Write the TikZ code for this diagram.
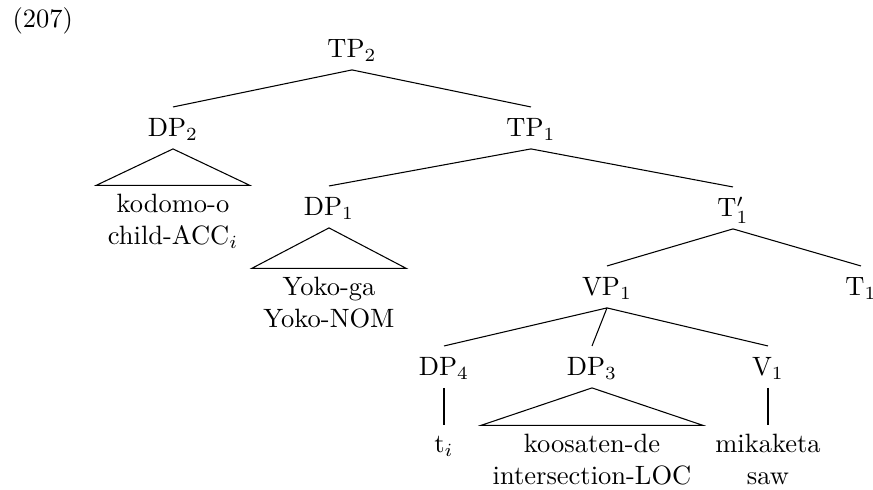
\documentclass[tikz,border=0pt]{standalone}
\begin{document}
\begin{tikzpicture}[x=0.3774pt,y=-0.3774pt,
  cat/.style={anchor=base,inner xsep=1pt,inner ysep=4.3pt,text height=6.83pt,text depth=0pt},
  leaf/.style={anchor=base,inner xsep=4.2pt,inner ysep=3.4pt,text height=6.83pt},
  branch/.style={line width=0.4pt}]
\useasboundingbox (0,0) rectangle (873,490);
\node[anchor=base west,inner sep=0pt] (ex) at (12,28) {(207)};
% categories
\node[cat] (tp2) at (352,58) {TP$_2$};
\node[cat] (dp2) at (173,137) {DP$_2$};
\node[cat] (tp1) at (531,137) {TP$_1$};
\node[cat] (dp1) at (329,216) {DP$_1$};
\node[cat] (t1b) at (733,217) {T$'_1$};
\node[cat] (vp1) at (607,296) {VP$_1$};
\node[cat] (t1) at (861,296) {T$_1$};
\node[cat] (dp4) at (444,376) {DP$_4$};
\node[cat] (dp3) at (592,376) {DP$_3$};
\node[cat] (v1) at (768,376) {V$_1$};
% leaves
\node[leaf] (kod) at (173,213) {\begin{tabular}[t]{@{}c@{}}kodomo-o\\child-ACC$_i$\end{tabular}};
\node[leaf] (yoko) at (329,296) {\begin{tabular}[t]{@{}c@{}}Yoko-ga\\Yoko-NOM\end{tabular}};
\node[leaf] (ti) at (444,453) {t$_i$};
\node[leaf] (koo) at (592,453) {\begin{tabular}[t]{@{}c@{}}koosaten-de\\intersection-LOC\end{tabular}};
\node[leaf] (mik) at (768,453) {\begin{tabular}[t]{@{}c@{}}mikaketa\\saw\end{tabular}};
% branches
\draw[branch] (tp2.south) -- (dp2.north);
\draw[branch] (tp2.south) -- (tp1.north);
\draw[branch] (tp1.south) -- (dp1.north);
\draw[branch] (tp1.south) -- (t1b.north);
\draw[branch] (t1b.south) -- (vp1.north);
\draw[branch] (t1b.south) -- (t1.north);
\draw[branch] (vp1.south) -- (dp4.north);
\draw[branch] (vp1.south) -- (dp3.north);
\draw[branch] (vp1.south) -- (v1.north);
\draw[branch] (dp4.south) -- (ti.north);
\draw[branch] (v1.south) -- (mik.north);
% triangles
\draw[branch] (dp2.south) -- (kod.north west) -- (kod.north east) -- cycle;
\draw[branch] (dp1.south) -- (yoko.north west) -- (yoko.north east) -- cycle;
\draw[branch] (dp3.south) -- (koo.north west) -- (koo.north east) -- cycle;
\end{tikzpicture}
\end{document}
